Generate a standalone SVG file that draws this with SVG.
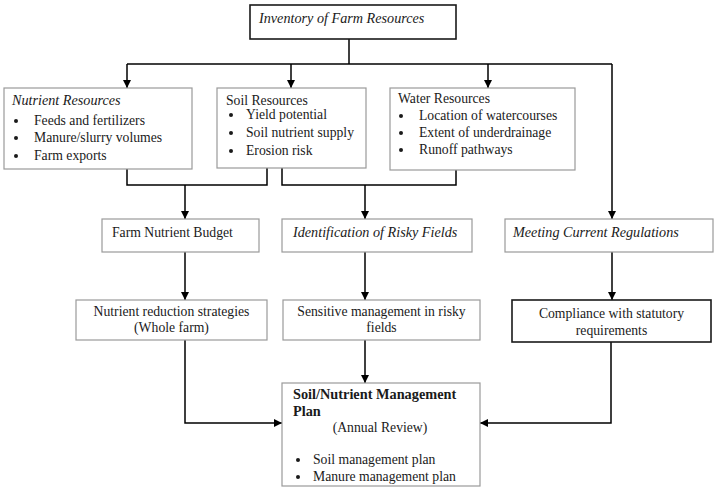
<svg xmlns="http://www.w3.org/2000/svg" width="717" height="488" viewBox="0 0 717 488">
<style>
text{font-family:"Liberation Serif","Times New Roman",serif;font-size:13.7px;fill:#1a1a1a}
.i{font-style:italic;font-size:14.2px}
.b{font-weight:bold;font-size:14.3px}
.c{text-anchor:middle}
.box{fill:#fff;stroke:#9a9a9a;stroke-width:1.2}
.dbox{fill:#fff;stroke:#1a1a1a;stroke-width:1.6}
.ln{fill:none;stroke:#000;stroke-width:1.5}
.dot{fill:#1a1a1a}
</style>
<defs>
<marker id="ah" viewBox="0 0 10 10" refX="10" refY="5" markerWidth="8" markerHeight="8" markerUnits="userSpaceOnUse" orient="auto">
<path d="M0,0 L10,5 L0,10 z" fill="#000"/>
</marker>
</defs>
<rect width="717" height="488" fill="#fff"/>
<g id="connectors">
<path class="ln" d="M349,39 V64"/>
<path class="ln" d="M127,64 H612"/>
<path class="ln" d="M127,64 V88" marker-end="url(#ah)"/>
<path class="ln" d="M291,64 V88" marker-end="url(#ah)"/>
<path class="ln" d="M488,64 V88" marker-end="url(#ah)"/>
<path class="ln" d="M612,64 V219" marker-end="url(#ah)"/>
<path class="ln" d="M127,169 V185 H267 V168"/>
<path class="ln" d="M185,185 V219" marker-end="url(#ah)"/>
<path class="ln" d="M282,168 V185 H456 V170"/>
<path class="ln" d="M365,185 V219" marker-end="url(#ah)"/>
<path class="ln" d="M185,252 V300" marker-end="url(#ah)"/>
<path class="ln" d="M365,252 V300" marker-end="url(#ah)"/>
<path class="ln" d="M612,252 V300" marker-end="url(#ah)"/>
<path class="ln" d="M185,340 V423 H282" marker-end="url(#ah)"/>
<path class="ln" d="M365,340 V383" marker-end="url(#ah)"/>
<path class="ln" d="M611,342 V423 H480" marker-end="url(#ah)"/>
</g>
<g id="inventory">
<rect class="dbox" x="250" y="5" width="206" height="34"/>
<text class="i" x="259" y="23">Inventory of Farm Resources</text>
</g>
<g id="nutrient-resources">
<rect class="box" x="4" y="88" width="188" height="81"/>
<text class="i" x="12" y="105">Nutrient Resources</text>
<circle class="dot" cx="16" cy="121" r="2"/><text x="34" y="125">Feeds and fertilizers</text>
<circle class="dot" cx="16" cy="138" r="2"/><text x="34" y="142">Manure/slurry volumes</text>
<circle class="dot" cx="16" cy="156" r="2"/><text x="34" y="160">Farm exports</text>
</g>
<g id="soil-resources">
<rect class="box" x="217" y="88" width="149" height="80"/>
<text x="226" y="105">Soil Resources</text>
<circle class="dot" cx="231" cy="115" r="2"/><text x="246" y="119">Yield potential</text>
<circle class="dot" cx="231" cy="133" r="2"/><text x="246" y="137">Soil nutrient supply</text>
<circle class="dot" cx="231" cy="151" r="2"/><text x="246" y="155">Erosion risk</text>
</g>
<g id="water-resources">
<rect class="box" x="390" y="88" width="185" height="82"/>
<text x="398" y="103">Water Resources</text>
<circle class="dot" cx="401" cy="116" r="2"/><text x="419" y="120">Location of watercourses</text>
<circle class="dot" cx="401" cy="133" r="2"/><text x="419" y="137">Extent of underdrainage</text>
<circle class="dot" cx="401" cy="150" r="2"/><text x="419" y="154">Runoff pathways</text>
</g>
<g id="farm-nutrient-budget">
<rect class="box" x="102" y="219" width="157" height="33"/>
<text x="112" y="237">Farm Nutrient Budget</text>
</g>
<g id="risky-fields">
<rect class="box" x="282" y="219" width="190" height="33"/>
<text class="i" x="293" y="237">Identification of Risky Fields</text>
</g>
<g id="regulations">
<rect class="box" x="505" y="219" width="208" height="33"/>
<text class="i" x="513" y="237">Meeting Current Regulations</text>
</g>
<g id="nutrient-reduction">
<rect class="box" x="76" y="300" width="191" height="40"/>
<text class="c" x="171.5" y="316">Nutrient reduction strategies</text>
<text class="c" x="171.5" y="332">(Whole farm)</text>
</g>
<g id="sensitive-management">
<rect class="box" x="283" y="300" width="197" height="40"/>
<text class="c" x="381.5" y="316">Sensitive management in risky</text>
<text class="c" x="381.5" y="332">fields</text>
</g>
<g id="compliance">
<rect class="dbox" x="512" y="300" width="199" height="42"/>
<text class="c" x="611.5" y="318">Compliance with statutory</text>
<text class="c" x="611.5" y="335">requirements</text>
</g>
<g id="management-plan">
<rect class="box" x="282" y="383" width="198" height="103"/>
<text class="b" x="293" y="399">Soil/Nutrient Management</text>
<text class="b" x="293" y="416">Plan</text>
<text class="c" x="380" y="432">(Annual Review)</text>
<circle class="dot" cx="298" cy="460" r="2"/><text x="313" y="464">Soil management plan</text>
<circle class="dot" cx="298" cy="477" r="2"/><text x="313" y="481">Manure management plan</text>
</g>
</svg>
